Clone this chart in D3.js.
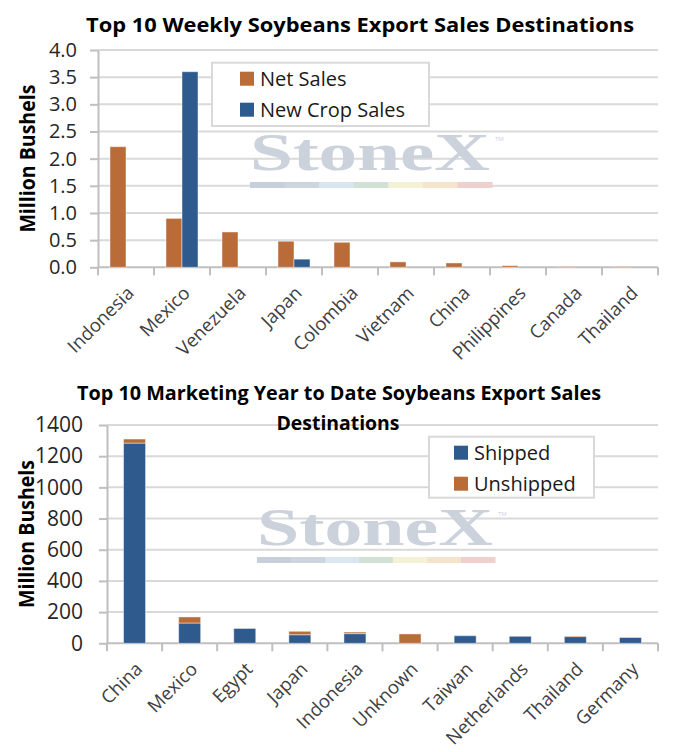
<!doctype html>
<html>
<head>
<meta charset="UTF-8">
<title>Soybeans Export Sales</title>
<script src="https://d3js.org/d3.v7.min.js"></script>
<style>
    body { margin: 0; background: #fff; }
    svg { font-family: "Open Sans", "Noto Sans", sans-serif; }
</style>
</head>
<body>
<svg id="chart" width="678" height="752"></svg>
<script>
// weekly chart
var weekCountries = ["Indonesia", "Mexico", "Venezuela", "Japan", "Colombia",
                     "Vietnam", "China", "Philippines", "Canada", "Thailand"];
var netSales     = [2.22, 0.90, 0.65, 0.48, 0.46, 0.10, 0.08, 0.03, 0.015, 0.015];
var newCropSales = [0, 3.60, 0, 0.15, 0, 0, 0, 0, 0, 0];
var weekTicks    = [0, 0.5, 1.0, 1.5, 2.0, 2.5, 3.0, 3.5, 4.0];

// marketing year to date chart
var mytdCountries = ["China", "Mexico", "Egypt", "Japan", "Indonesia",
                     "Unknown", "Taiwan", "Netherlands", "Thailand", "Germany"];
var shipped   = [1284, 130, 96, 55, 62, 0, 49, 46, 43, 38];
var unshipped = [26, 39, 1, 22, 10, 60, 2, 1, 4, 1];
var mytdTicks = [0, 200, 400, 600, 800, 1000, 1200, 1400];

var orange = "#b96b38", blue = "#2e5a8e";
var grid = "#d9d9d9", axisCol = "#bfbfbf";

var svg = d3.select("#chart");

// ---------------------------------------------------------------
function frame(g, x, y, ticks, fmt, fontSize, pad) {
    var x0 = x.range()[0], x1 = x.range()[1];
    var y0 = y.range()[0];

    g.append("g").selectAll("line").data(ticks.filter(function(d){ return d > 0; }))
        .enter().append("line")
        .attr("x1", x0).attr("x2", x1)
        .attr("y1", function(d){ return y(d); })
        .attr("y2", function(d){ return y(d); })
        .attr("stroke", grid).attr("stroke-width", 2);

    var ya = g.append("g")
        .attr("transform", "translate(" + x0 + ",0)")
        .call(d3.axisLeft(y).tickValues(ticks).tickSize(8).tickSizeOuter(0)
              .tickPadding(pad).tickFormat(fmt));
    ya.select(".domain").attr("stroke", axisCol).attr("stroke-width", 2);
    ya.selectAll(".tick line").attr("stroke", axisCol).attr("stroke-width", 2);
    ya.selectAll(".tick text").attr("font-size", fontSize).attr("fill", "#262626")
        .style("font-family", "'Open Sans'");

    // category boundary ticks
    var bounds = x.domain().map(function(d){ return x(d); }).concat([x1]);
    g.append("g").selectAll("line").data(bounds).enter().append("line")
        .attr("x1", function(d){ return d; }).attr("x2", function(d){ return d; })
        .attr("y1", y0).attr("y2", y0 + 8)
        .attr("stroke", axisCol).attr("stroke-width", 2);
    g.append("line").attr("x1", x0).attr("x2", x1).attr("y1", y0).attr("y2", y0)
        .attr("stroke", axisCol).attr("stroke-width", 2);

    g.append("g").selectAll("text").data(x.domain()).enter().append("text")
        .attr("transform", function(d){
            return "translate(" + (x(d) + x.bandwidth() / 2 + 9) + "," + (y0 + 27) + ") rotate(-45)";
        })
        .attr("text-anchor", "end")
        .attr("font-size", 18.5)
        .attr("fill", "#404040")
        .text(function(d){ return d; });
}

function yTitle(cx, cy) {
    svg.append("text")
        .attr("transform", "translate(" + cx + "," + cy + ") rotate(-90)")
        .attr("text-anchor", "middle")
        .attr("font-size", 21).attr("font-weight", "bold")
        .attr("textLength", 148).attr("lengthAdjust", "spacingAndGlyphs")
        .text("Million Bushels");
}

function watermark(x, base, w) {
    var g = svg.append("g");
    g.append("text")
        .attr("x", x).attr("y", base)
        .style("font-family", "'Liberation Serif', 'DejaVu Serif', serif")
        .attr("font-weight", "bold")
        .attr("font-size", 52).attr("fill", "#cbd2dc")
        .attr("textLength", w).attr("lengthAdjust", "spacingAndGlyphs")
        .text("StoneX");
    g.append("text")
        .attr("x", x + w + 5).attr("y", base - 29)
        .attr("font-size", 6).attr("fill", "#cbd2dc")
        .text("TM");
    var cols = ["#c7d0da", "#cdd6df", "#dae6f0", "#d2e1d5", "#f4f2d4", "#f5e4cc", "#f0cfcf"];
    var sw = (w + 2) / cols.length;
    g.selectAll(null).data(cols).enter().append("rect")
        .attr("x", function(d, i){ return x + i * sw; })
        .attr("y", base + 12).attr("width", sw + 0.5).attr("height", 6)
        .attr("fill", function(d){ return d; });
}

function legend(x, y, w, h, items) {
    var g = svg.append("g");
    g.append("rect").attr("x", x).attr("y", y).attr("width", w).attr("height", h)
        .attr("fill", "#fff").attr("stroke", grid).attr("stroke-width", 2);
    var it = g.selectAll(null).data(items).enter().append("g")
        .attr("transform", function(d, i){ return "translate(" + d.sx + "," + (y + 9 + i * 31) + ")"; });
    it.append("rect").attr("width", 14).attr("height", 14)
        .attr("fill", function(d){ return d.color; });
    it.append("text").attr("x", 20).attr("y", 14)
        .attr("font-size", 20).attr("fill", "#1a1a1a")
        .text(function(d){ return d.label; });
}

// ---------------------------------------------------------------
// top chart
(function(){
    var g = svg.append("g");
    var x = d3.scaleBand().domain(weekCountries).range([98, 658]);
    var y = d3.scaleLinear().domain([0, 4]).range([267.3, 50]);
    var bw = x.bandwidth();
    var x1 = d3.scaleBand().domain(["net", "new"]).range([bw / 2 - 16, bw / 2 + 16]);

    svg.append("text").attr("x", 360).attr("y", 32)
        .attr("text-anchor", "middle").attr("font-size", 20).attr("font-weight", "bold")
        .attr("textLength", 548).attr("lengthAdjust", "spacingAndGlyphs")
        .text("Top 10 Weekly Soybeans Export Sales Destinations");

    watermark(250, 170, 240);
    frame(g, x, y, weekTicks, d3.format(".1f"), 20, 13);

    var rows = weekCountries.map(function(c, i){
        return [{c: c, k: "net", v: netSales[i]}, {c: c, k: "new", v: newCropSales[i]}];
    });
    g.append("g").selectAll("g").data(rows).enter().append("g")
        .selectAll("rect").data(function(d){ return d.filter(function(e){ return e.v > 0; }); })
        .enter().append("rect")
        .attr("x", function(d){ return x(d.c) + x1(d.k); })
        .attr("width", x1.bandwidth())
        .attr("y", function(d){ return y(d.v); })
        .attr("height", function(d){ return y(0) - y(d.v); })
        .attr("fill", function(d){ return d.k == "net" ? orange : blue; })
        .attr("stroke", "rgba(255,255,255,0.45)").attr("stroke-width", 1);

    yTitle(35, 158.6);
    legend(212, 62.7, 217, 63.3, [
        {label: "Net Sales", color: orange, sx: 240},
        {label: "New Crop Sales", color: blue, sx: 240}
    ]);
})();

// bottom chart
(function(){
    var g = svg.append("g");
    var x = d3.scaleBand().domain(mytdCountries).range([107, 658]);
    var y = d3.scaleLinear().domain([0, 1400]).range([643.3, 425]);
    var bw = x.bandwidth(), barW = 22;

    svg.append("text").attr("x", 339).attr("y", 400)
        .attr("text-anchor", "middle").attr("font-size", 20).attr("font-weight", "bold")
        .attr("textLength", 524).attr("lengthAdjust", "spacingAndGlyphs")
        .text("Top 10 Marketing Year to Date Soybeans Export Sales");
    svg.append("text").attr("x", 338).attr("y", 430)
        .attr("text-anchor", "middle").attr("font-size", 20).attr("font-weight", "bold")
        .attr("textLength", 123).attr("lengthAdjust", "spacingAndGlyphs")
        .text("Destinations");

    watermark(257, 545, 236);
    frame(g, x, y, mytdTicks, d3.format("d"), 21, 16);

    var table = mytdCountries.map(function(c, i){
        return {c: c, shipped: shipped[i], unshipped: unshipped[i]};
    });
    var series = d3.stack().keys(["shipped", "unshipped"])(table);
    g.append("g").selectAll("g").data(series).enter().append("g")
        .attr("fill", function(d){ return d.key == "shipped" ? blue : orange; })
        .selectAll("rect").data(function(d){ return d.filter(function(e){ return e[1] > e[0]; }); })
        .enter().append("rect")
        .attr("x", function(d){ return x(d.data.c) + (bw - barW) / 2; })
        .attr("width", barW)
        .attr("y", function(d){ return y(d[1]); })
        .attr("height", function(d){ return y(d[0]) - y(d[1]); })
        .attr("stroke", "rgba(255,255,255,0.45)").attr("stroke-width", 1);

    yTitle(34, 534);
    legend(429, 436.7, 165, 61, [
        {label: "Shipped", color: blue, sx: 454},
        {label: "Unshipped", color: orange, sx: 454}
    ]);
})();
</script>
</body>
</html>
